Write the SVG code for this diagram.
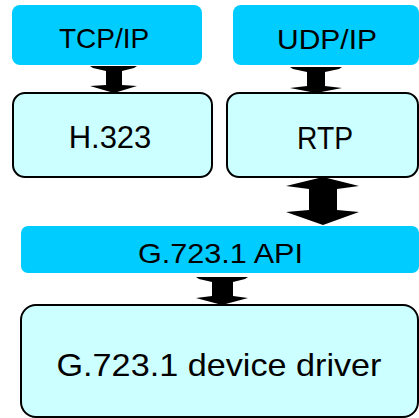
<svg xmlns="http://www.w3.org/2000/svg" width="419" height="418" viewBox="0 0 419 418">
  <style>
    .bar { fill: #00CCFF; }
    .block { fill: #CCFFFF; stroke: #000000; stroke-width: 2; }
    .label { font-family: "Liberation Sans", Arial, sans-serif; fill: #000000; text-anchor: middle; }
    .link { fill: #000000; stroke: none; }
  </style>
  <rect width="419" height="418" fill="#FFFFFF"/>

  <g id="tcp-ip">
    <rect class="bar" x="12" y="5" width="190" height="60" rx="8"/>
    <text class="label" x="104" y="48" font-size="28">TCP/IP</text>
  </g>
  <g id="udp-ip">
    <rect class="bar" x="233" y="5" width="186" height="60" rx="8"/>
    <text class="label" x="327" y="48.5" font-size="28" textLength="100" lengthAdjust="spacingAndGlyphs">UDP/IP</text>
  </g>
  <g id="h323">
    <rect class="block" x="13" y="93" width="199" height="84" rx="12"/>
    <text class="label" x="110" y="147.5" font-size="31">H.323</text>
  </g>
  <g id="rtp">
    <rect class="block" x="227" y="93" width="191" height="84" rx="12"/>
    <text class="label" x="325" y="148.5" font-size="31" textLength="56" lengthAdjust="spacingAndGlyphs">RTP</text>
  </g>
  <g id="g7231-api">
    <rect class="bar" x="21" y="226" width="398" height="47" rx="7"/>
    <text class="label" x="220.5" y="262.5" font-size="28" textLength="165" lengthAdjust="spacingAndGlyphs">G.723.1 API</text>
  </g>
  <g id="g7231-driver">
    <rect class="block" x="21" y="305" width="397" height="112" rx="15"/>
    <text class="label" x="219" y="376" font-size="32" textLength="325" lengthAdjust="spacingAndGlyphs">G.723.1 device driver</text>
  </g>

  <g id="connectors">
    <!-- TCP/IP <-> H.323 -->
    <polygon class="link" points="90,66 137,66 134,68 122,71 122,85 137,86 114,93 90,86 106,85 106,71 93,68"/>
    <!-- UDP/IP <-> RTP -->
    <polygon class="link" points="290,67 342,67 339,69 325,72 325,86 342,88 316,93 290,88 307,86 307,72 293,69"/>
    <!-- RTP <-> G.723.1 API -->
    <polygon class="link" points="323,177 359,186 337,189 337,210 359,212 323,225 286,212 309,210 309,189 286,186"/>
    <!-- G.723.1 API <-> device driver -->
    <polygon class="link" points="196,277 248,277 245,279 233,282 233,296 248,298 222,305 196,298 212,296 212,282 199,279"/>
  </g>
</svg>
